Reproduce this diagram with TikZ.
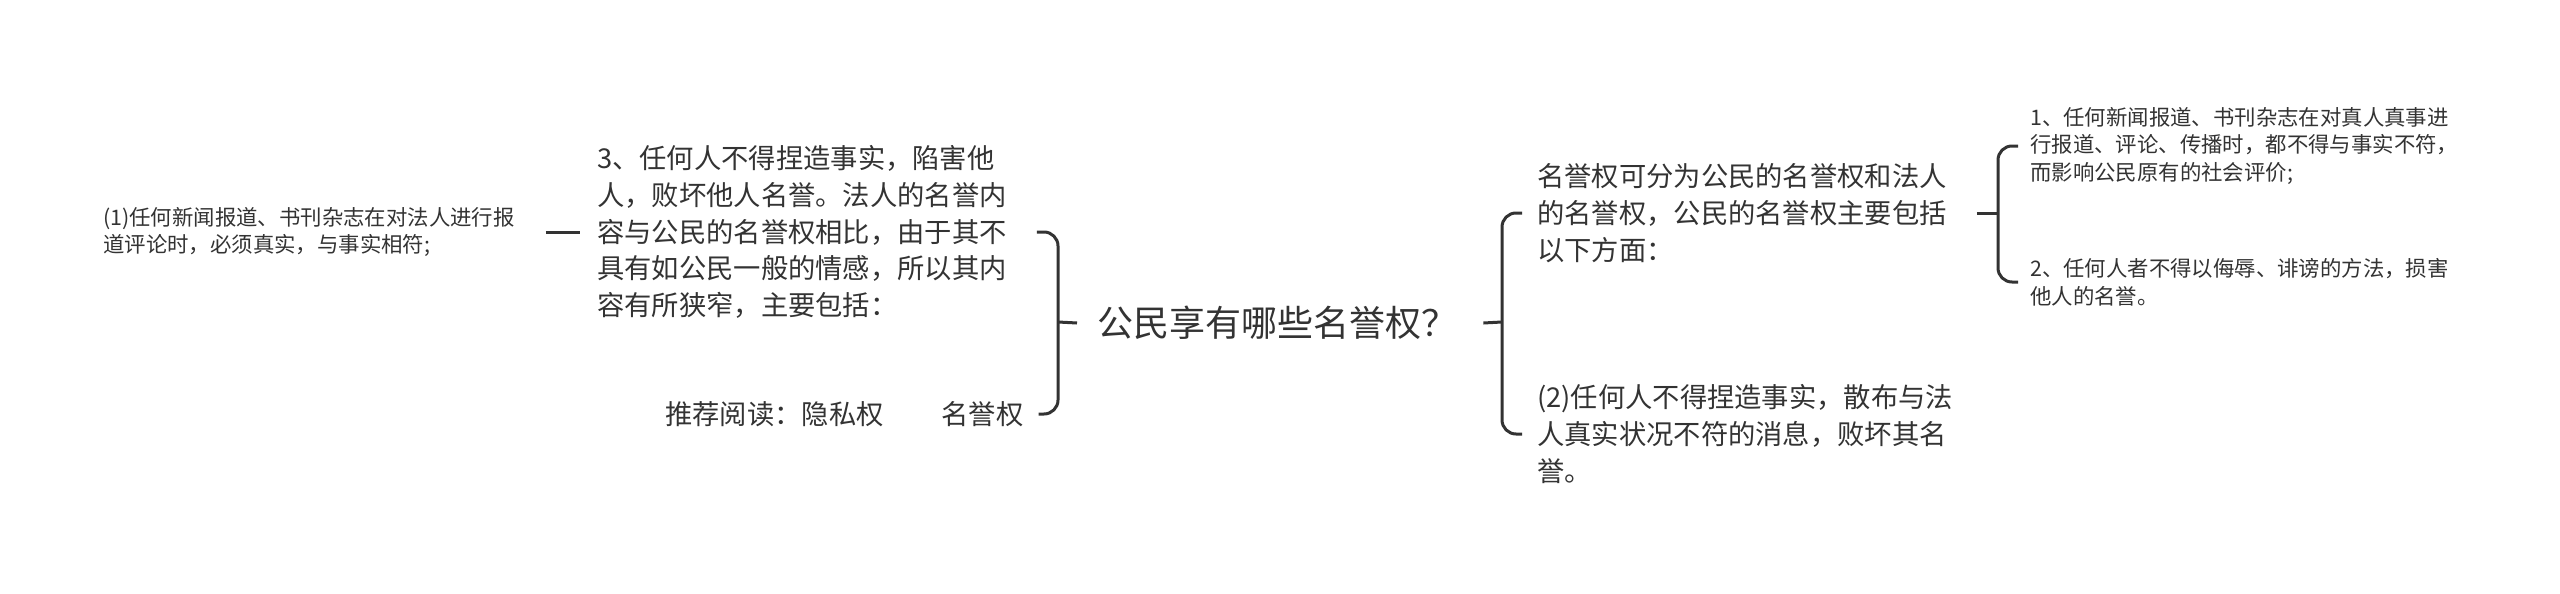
\documentclass[tikz,border=0pt]{standalone}
\usepackage{fontspec}
\setmainfont{Noto Sans CJK SC}
\definecolor{textc}{HTML}{333333}
\definecolor{linec}{HTML}{333333}
\begin{document}
\begin{tikzpicture}[x=1pt,y=-1pt,
  txt/.style={inner sep=0pt, anchor=west, align=left, text=textc},
  small/.style={txt, font=\fontsize{21.4}{27.8}\selectfont},
  mid/.style={txt, font=\fontsize{27.3}{36.7}\selectfont},
  big/.style={txt, font=\fontsize{36}{40}\selectfont},
  conn/.style={draw=linec, line width=3pt, rounded corners=14pt}]
\useasboundingbox[fill=white] (0,0) rectangle (2560,594);

% nodes
\node[big] (root) at (1097,323) {公民享有哪些名誉权？};
\node[mid] (n3) at (597,232) {3、任何人不得捏造事实，陷害他\\人，败坏他人名誉。法人的名誉内\\容与公民的名誉权相比，由于其不\\具有如公民一般的情感，所以其内\\容有所狭窄，主要包括：};
\node[small] (n1) at (103,232) {(1)任何新闻报道、书刊杂志在对法人进行报\\道评论时，必须真实，与事实相符;};
\node[mid] (rec) at (665,414) {推荐阅读：隐私权\hspace{58pt}名誉权};
\node[mid] (mr) at (1537,213) {名誉权可分为公民的名誉权和法人\\的名誉权，公民的名誉权主要包括\\以下方面：};
\node[mid] (n2) at (1537,434) {(2)任何人不得捏造事实，散布与法\\人真实状况不符的消息，败坏其名\\誉。};
\node[small] (c1) at (2030,146) {1、任何新闻报道、书刊杂志在对真人真事进\\行报道、评论、传播时，都不得与事实不符，\\而影响公民原有的社会评价;};
\node[small] (c2) at (2030,282) {2、任何人者不得以侮辱、诽谤的方法，损害\\他人的名誉。};

% bracket points
\coordinate (LV) at (1058,322);
\coordinate (RV) at (1502,322);
\coordinate (RRV) at (1998,213);

% connectors
\draw[conn] ([xshift=-20pt]root.west) -- (LV);
\draw[conn] ([xshift=30pt]n3.east) -| (LV) |- ([xshift=15pt]rec.east);
\draw[conn] ([xshift=31pt]n1.east) -- ([xshift=-17pt]n3.west);

\draw[conn] ([xshift=26pt]root.east) -- (RV);
\draw[conn] ([xshift=-15pt]mr.west) -| (RV) |- ([xshift=-15pt]n2.west);

\draw[conn] ([xshift=30pt]mr.east) -- (RRV);
\draw[conn] ([xshift=-12pt]c1.west) -| (RRV) |- ([xshift=-12pt]c2.west);
\end{tikzpicture}
\end{document}
